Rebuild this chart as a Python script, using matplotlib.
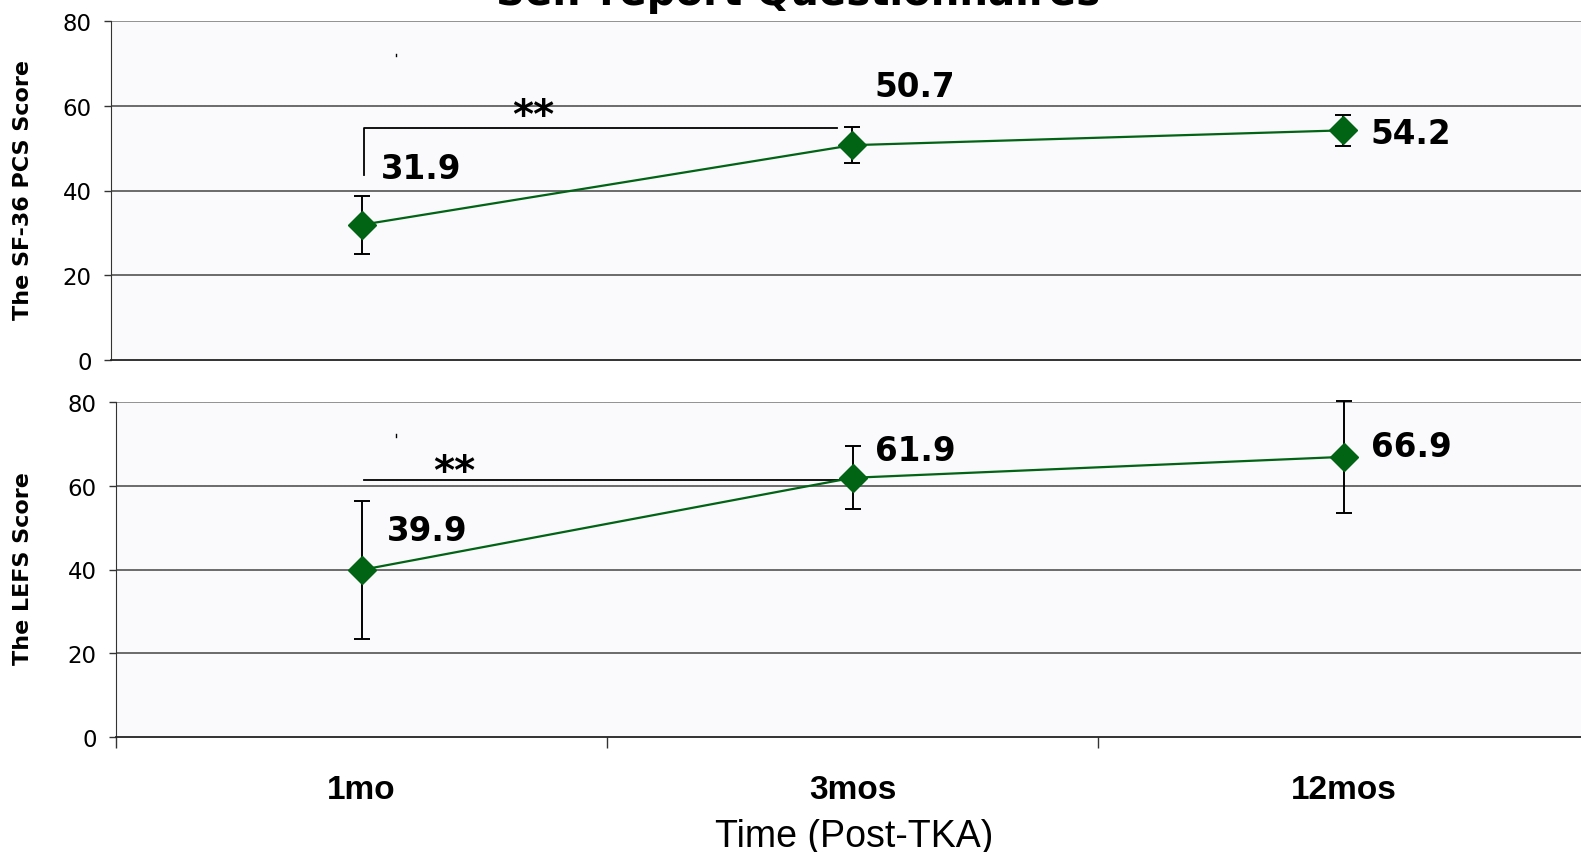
import matplotlib
matplotlib.use('Agg')
import matplotlib.pyplot as plt

times = ['1mo', '3mos', '12mos']

sf36_mean = [31.9, 50.7, 54.2]
sf36_err = [6.9, 4.2, 3.6]
lefs_mean = [39.9, 61.9, 66.9]
lefs_err = [16.5, 7.5, 13.3]

# where the value labels sit (data units)
sf36_label_x = [0.539, 1.545, 2.555]
sf36_label_y = [45.1, 64.5, 53.5]
lefs_label_x = [0.551, 1.545, 2.557]
lefs_label_y = [49.3, 68.5, 69.3]

green = '#006414'
bg = '#fafafc'

fig = plt.figure(figsize=(15.81, 8.53), dpi=100)
ax1 = fig.add_axes([111 / 1581, 1 - 361 / 853, 1 - 111 / 1581, (361 - 22) / 853])
ax2 = fig.add_axes([116 / 1581, 1 - 738 / 853, 1 - 116 / 1581, (738 - 403) / 853])

xs = [0.5, 1.5, 2.5]


def panel(ax, means, errs, label_x, label_y):
    ax.set_facecolor(bg)
    ax.set_ylim(0, 80)
    ax.set_yticks([0, 20, 40, 60, 80])
    for v in [20, 40, 60]:
        ax.axhline(v, color='#444444', lw=1.1, zorder=1)
    ax.axhline(80, color='#8a8a8a', lw=1.3, zorder=1)
    for s in ['top', 'right']:
        ax.spines[s].set_visible(False)
    ax.spines['left'].set_color('#333333')
    ax.spines['bottom'].set_color('#222222')
    ax.spines['bottom'].set_linewidth(1.3)
    ax.tick_params(axis='y', length=5, width=1, color='#333333', labelsize=16.5, pad=9)
    eb = ax.errorbar(xs, means, yerr=errs, color=green, lw=1.6, marker='D', ms=14,
                     mfc=green, mec=green, ecolor='black', elinewidth=1.4,
                     capsize=6, capthick=1.4, zorder=3)
    for art in eb.get_children():
        art.set_clip_on(False)
    for lx, m, ly in zip(label_x, means, label_y):
        ax.text(lx, ly, f'{m:.1f}', fontsize=23.5, fontweight='bold',
                va='center', ha='left')


panel(ax1, sf36_mean, sf36_err, sf36_label_x, sf36_label_y)
panel(ax2, lefs_mean, lefs_err, lefs_label_x, lefs_label_y)

fig.text(23 / 1581, 1 - 190 / 853, 'The SF-36 PCS Score', rotation=90, fontsize=16,
         fontweight='bold', ha='center', va='center')
fig.text(23 / 1581, 1 - 569 / 853, 'The LEFS Score', rotation=90, fontsize=16,
         fontweight='bold', ha='center', va='center')

ax1.set_xticks([])

ax2.set_xticks([0, 1, 2, 3])
ax2.set_xticklabels([])
ax2.tick_params(axis='x', length=8, width=1, color='#333333')
ax2.set_xticks(xs, minor=True)
ax2.set_xticklabels(times, minor=True, fontsize=24, fontweight='bold',
                    family='Liberation Sans')
ax2.tick_params(axis='x', which='minor', length=0, pad=27)
ax2.set_xlabel('Time (Post-TKA)', fontsize=27, family='Liberation Sans')
ax2.xaxis.set_label_coords(0.504, -0.242)

ax1.set_xlim(-5 / 491, (1581 - 116) / 491)
ax2.set_xlim(0, (1581 - 116) / 491)

# significance marks
ax1.plot([0.505, 0.505, 1.468], [43.6, 54.8, 54.8], color='black', lw=1.3)
ax1.text(0.85, 57.5, '**', fontsize=29, fontweight='bold', ha='center', va='center')
ax1.plot([0.57, 0.57], [71.7, 72.3], color='black', lw=1)
ax2.plot([0.505, 1.505], [61.4, 61.4], color='black', lw=1.3)
ax2.text(0.69, 63.3, '**', fontsize=29, fontweight='bold', ha='center', va='center')
ax2.plot([0.57, 0.57], [71.7, 72.3], color='black', lw=1)

fig.text(798 / 1581, 1 - 5 / 853, 'Self-report Questionnaires', fontsize=29,
         fontweight='bold', ha='center', va='baseline')

fig.savefig('out.png', dpi=100)
